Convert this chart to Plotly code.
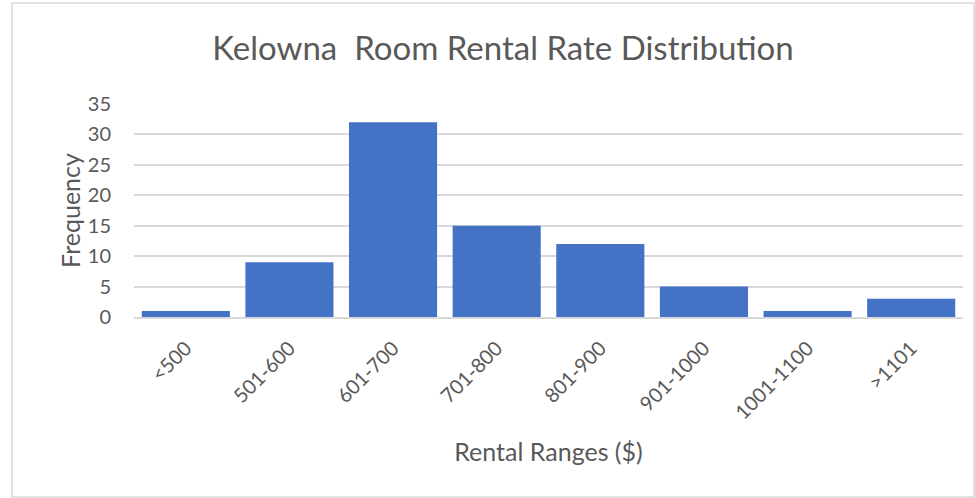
import plotly.graph_objects as go

categories = ["<500", "501-600", "601-700", "701-800", "801-900", "901-1000", "1001-1100", ">1101"]
frequency = [1, 9, 32, 15, 12, 5, 1, 3]
y_ticks = [0, 5, 10, 15, 20, 25, 30, 35]

W, H = 975, 498
ml, mr, mt, mb = 134, 12, 104, 181
pw, ph = W - ml - mr, H - mt - mb

def px_to_paper_x(x):
    return (x - ml) / pw

def px_to_paper_y(y):
    return (H - mb - y) / ph

fig = go.Figure(go.Bar(
    x=categories, y=frequency,
    marker=dict(color="#4472C4", line=dict(width=0)),
))

fig.update_layout(
    width=W, height=H,
    margin=dict(l=ml, r=mr, t=mt, b=mb),
    paper_bgcolor="white", plot_bgcolor="white",
    bargap=0.15,
    showlegend=False,
    font=dict(family="Lato, Open Sans, sans-serif", color="#595959"),
    title=dict(text="Kelowna  Room Rental Rate Distribution", x=503 / W, xanchor="center",
               y=1 - 48 / H, yanchor="middle",
               font=dict(size=33, color="#595959", family="Lato, sans-serif")),
    xaxis=dict(
        tickangle=-45, tickfont=dict(size=20, color="#595959"),
        showgrid=False, showline=True, linecolor="#d9d9d9", linewidth=1.5,
        ticks="", ticklabelstandoff=10,
        title=dict(text="Rental Ranges ($)", font=dict(size=25, color="#595959"), standoff=21),
    ),
    yaxis=dict(
        range=[0, 35], tickvals=y_ticks, tickfont=dict(size=20, color="#595959"),
        showgrid=True, gridcolor="#d9d9d9", gridwidth=1.5, zeroline=False,
        ticks="", ticklen=0, ticklabelstandoff=22,
        title=dict(text="Frequency", font=dict(size=25, color="#595959"), standoff=0),
    ),
    shapes=[dict(type="rect", xref="paper", yref="paper",
                 x0=px_to_paper_x(12), x1=px_to_paper_x(974),
                 y0=px_to_paper_y(497), y1=px_to_paper_y(3),
                 line=dict(color="#d9d9d9", width=1.5), fillcolor="rgba(0,0,0,0)", layer="below")],
)

fig.write_html("out.html", config={"displayModeBar": False},
               post_script="document.body.style.margin='0px';")
